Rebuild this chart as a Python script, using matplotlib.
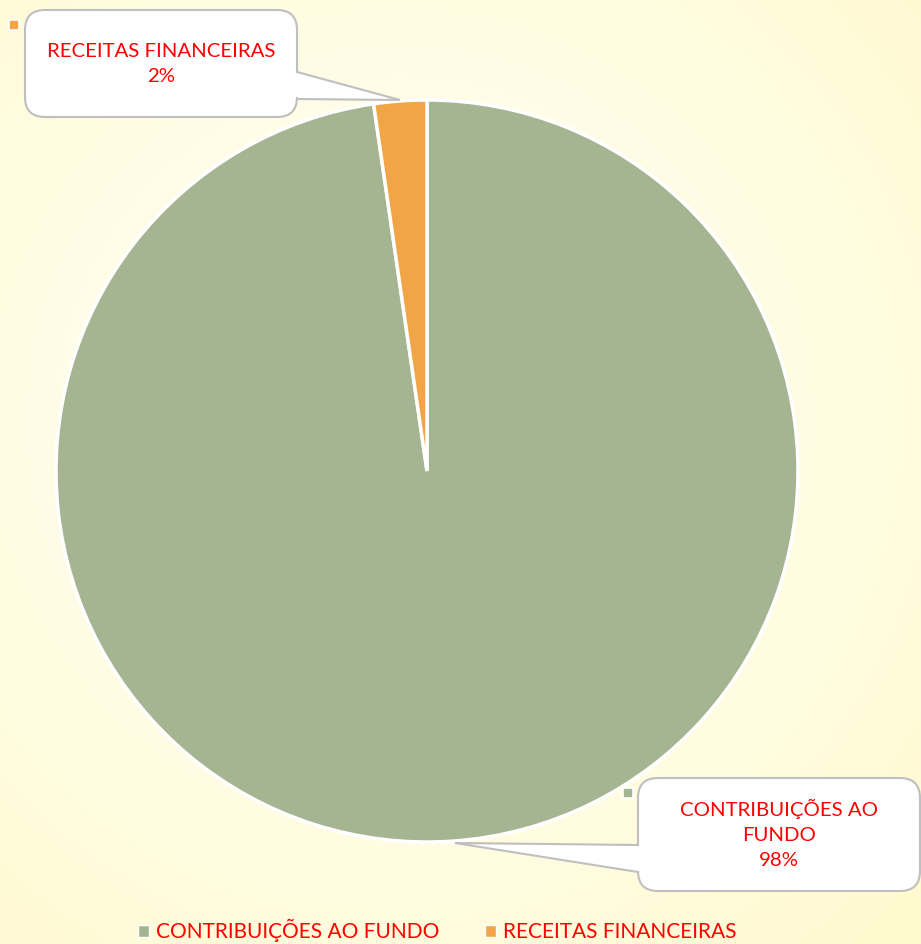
import numpy as np
import matplotlib
matplotlib.use("Agg")
import matplotlib.pyplot as plt
from matplotlib.path import Path
from matplotlib.patches import PathPatch, Rectangle

plt.rcParams['font.family'] = ['Lato', 'DejaVu Sans']

categories = ["CONTRIBUIÇÕES AO FUNDO", "RECEITAS FINANCEIRAS"]
values = [97.7, 2.3]
pct_labels = ["98%", "2%"]
colors = ["#A5B592", "#F2A546"]

W, H = 921, 944
fig = plt.figure(figsize=(W / 100, H / 100), dpi=100)

# background radial gradient
bg = fig.add_axes([0, 0, 1, 1], zorder=0)
yy, xx = np.mgrid[0:H, 0:W]
d = np.sqrt(((xx - 400) / 700.0) ** 2 + ((yy - 420) / 700.0) ** 2)
d = np.clip(d, 0, 1) ** 1.2
c0 = np.array([255, 255, 248]) / 255.0
c1 = np.array([255, 250, 208]) / 255.0
img = c0[None, None, :] * (1 - d[..., None]) + c1[None, None, :] * d[..., None]
bg.imshow(img, extent=[0, W, H, 0], aspect='auto')
bg.set_xlim(0, W)
bg.set_ylim(H, 0)
bg.axis('off')

# pie
cx, cy, r = 427, 471, 371
ax = fig.add_axes([(cx - r) / W, (H - cy - r) / H, 2 * r / W, 2 * r / H], zorder=1)
wedges, _ = ax.pie(values, colors=colors, startangle=90, counterclock=False,
                   wedgeprops=dict(edgecolor='white', linewidth=2.5))
ax.set_xlim(-1, 1)
ax.set_ylim(-1, 1)
ax.set_aspect('equal')
ax.axis('off')

# overlay axes in pixel coords for callouts
ov = fig.add_axes([0, 0, 1, 1], zorder=2)
ov.set_xlim(0, W)
ov.set_ylim(H, 0)
ov.axis('off')
ov.patch.set_alpha(0)


def callout(x0, y0, x1, y1, rad, side, p0, p1, tip):
    verts, codes = [], []
    def mv(p):
        verts.append(p); codes.append(Path.MOVETO)
    def ln(p):
        verts.append(p); codes.append(Path.LINETO)
    def cu(c, p):
        verts.extend([c, p]); codes.extend([Path.CURVE3, Path.CURVE3])
    mv((x0 + rad, y0))
    ln((x1 - rad, y0))
    cu((x1, y0), (x1, y0 + rad))
    if side == 'right':
        ln((x1, p0)); ln(tip); ln((x1, p1))
    ln((x1, y1 - rad))
    cu((x1, y1), (x1 - rad, y1))
    ln((x0 + rad, y1))
    cu((x0, y1), (x0, y1 - rad))
    if side == 'left':
        ln((x0, p1)); ln(tip); ln((x0, p0))
    ln((x0, y0 + rad))
    cu((x0, y0), (x0 + rad, y0))
    verts.append((x0 + rad, y0)); codes.append(Path.CLOSEPOLY)
    p = PathPatch(Path(verts, codes), facecolor='white', edgecolor='#BFBFBF', lw=1.5, zorder=3)
    ov.add_patch(p)


callout(25, 10, 297, 117, 20, 'right', 72, 99, (400, 100))
callout(638, 778, 920, 891, 20, 'left', 845, 872, (455, 843))

fs = 14.7
ov.text(161, 64, categories[1] + "\n" + pct_labels[1], color='#FF0000', fontsize=fs,
        ha='center', va='center', linespacing=1.6, zorder=4)
ov.text(779, 834, "CONTRIBUIÇÕES AO\nFUNDO\n" + pct_labels[0], color='#FF0000', fontsize=fs,
        ha='center', va='center', linespacing=1.6, zorder=4)

# small legend keys beside labels
ov.add_patch(Rectangle((9, 20), 10, 10, facecolor=colors[1], edgecolor='white', lw=1.2, zorder=4))
ov.add_patch(Rectangle((623, 788), 10, 10, facecolor=colors[0], edgecolor='white', lw=1.2, zorder=4))

leg = fig.legend(wedges, categories, loc='center', bbox_to_anchor=(0.475, 0.014), ncol=2,
                 frameon=False, handlelength=0.5, handleheight=0.5, columnspacing=2.2,
                 handletextpad=0.35, fontsize=15, labelcolor='#FF0000')
for h in leg.legend_handles:
    h.set_edgecolor('white')
    h.set_linewidth(1)

fig.savefig("out.png", dpi=100)
